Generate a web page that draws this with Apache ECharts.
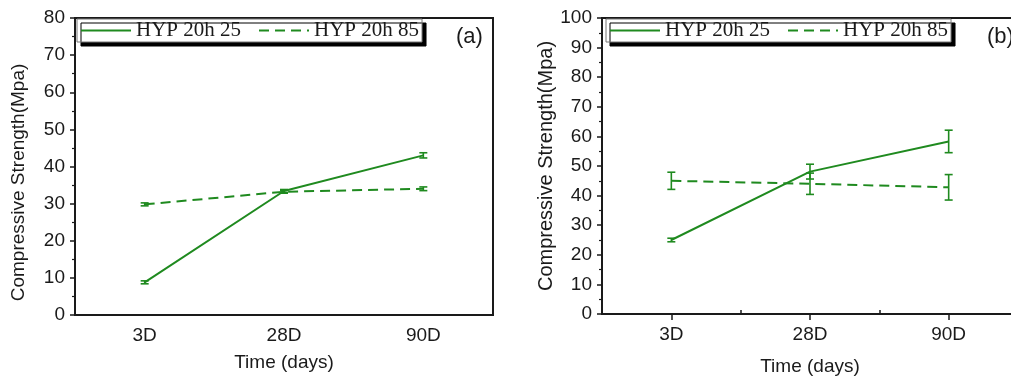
<!DOCTYPE html>
<html>
<head>
<meta charset="utf-8">
<script src="https://cdn.jsdelivr.net/npm/echarts@6/dist/echarts.min.js"></script>
<style>
  html, body { margin: 0; padding: 0; background: #fff; }
  #chart { width: 1011px; height: 376px; }
</style>
</head>
<body>
<div id="chart"></div>
<script>
// categories and values
const categories = ['3D', '28D', '90D'];
const seriesNames = ['HYP 20h 25', 'HYP 20h 85'];

// panel (a)
const a25 = [8.8, 33.4, 43.0];
const a25Err = [0.4, 0.4, 0.7];
const a85 = [29.8, 33.2, 34.0];
const a85Err = [0.4, 0.4, 0.5];

// panel (b)
const b25 = [25.0, 48.1, 58.3];
const b25Err = [0.6, 2.5, 3.8];
const b85 = [45.0, 44.0, 42.8];
const b85Err = [2.9, 3.6, 4.3];

const green = '#1f8a1f';
const ink = '#1a1a1a';
const sans = 'Liberation Sans';

const chart = echarts.init(document.getElementById('chart'));

function errData(vals, errs) {
  return vals.map((v, i) => [i, v - errs[i], v + errs[i]]);
}

function errSeries(idx, vals, errs) {
  return {
    type: 'custom',
    xAxisIndex: idx, yAxisIndex: idx,
    silent: true,
    z: 3,
    data: errData(vals, errs),
    renderItem(params, api) {
      const x = api.value(0);
      const lo = api.coord([x, api.value(1)]);
      const hi = api.coord([x, api.value(2)]);
      const w = 4;
      const style = { stroke: green, lineWidth: 1.6 };
      return {
        type: 'group',
        children: [
          { type: 'line', shape: { x1: lo[0], y1: lo[1], x2: hi[0], y2: hi[1] }, style },
          { type: 'line', shape: { x1: lo[0] - w, y1: lo[1], x2: lo[0] + w, y2: lo[1] }, style },
          { type: 'line', shape: { x1: hi[0] - w, y1: hi[1], x2: hi[0] + w, y2: hi[1] }, style }
        ]
      };
    }
  };
}

function lineSeries(idx, name, vals, dashed) {
  return {
    type: 'line',
    name: name,
    xAxisIndex: idx, yAxisIndex: idx,
    data: vals,
    symbol: 'none',
    z: 4,
    lineStyle: { color: green, width: 2, type: dashed ? [10, 6] : 'solid' },
    itemStyle: { color: green }
  };
}

function yAxis(idx, max) {
  return {
    type: 'value',
    gridIndex: idx,
    min: 0, max: max, interval: 10,
    name: 'Compressive Strength(Mpa)',
    nameLocation: 'middle',
    nameGap: idx === 0 ? 47 : 40,
    nameTextStyle: {
      fontFamily: sans, fontSize: idx === 0 ? 19 : 20, color: ink,
      // panel (a)'s title sits a little below the middle of its axis
      padding: idx === 0 ? [0, 32, 0, 0] : 0
    },
    axisLine: { show: true, lineStyle: { color: ink, width: 2 } },
    axisTick: { show: true, length: 5, lineStyle: { color: ink, width: 1.5 } },
    minorTick: { show: true, splitNumber: 2, length: 3, lineStyle: { color: ink, width: 1.2 } },
    splitLine: { show: false },
    axisLabel: { fontFamily: sans, fontSize: 19, color: ink, margin: 10 }
  };
}

function xAxis(idx, ticks) {
  return {
    type: 'category',
    gridIndex: idx,
    data: categories,
    boundaryGap: true,
    name: 'Time (days)',
    nameLocation: 'middle',
    nameGap: idx === 0 ? 38 : 43,
    nameTextStyle: { fontFamily: sans, fontSize: 19, color: ink },
    axisLine: { show: true, lineStyle: { color: ink, width: 2 } },
    axisTick: { show: ticks, alignWithLabel: true, length: 6, lineStyle: { color: ink, width: 1.5 } },
    splitLine: { show: false },
    axisLabel: { fontFamily: sans, fontSize: 19, color: ink, margin: 11 }
  };
}

function legend(left) {
  return {
    left: left, top: 19,
    orient: 'horizontal',
    data: seriesNames,
    itemWidth: 50, itemHeight: 14,
    itemGap: 17,
    padding: [1, 3, 1, 3],
    backgroundColor: '#fff',
    borderColor: '#777', borderWidth: 1,
    shadowColor: '#000', shadowBlur: 0, shadowOffsetX: 4, shadowOffsetY: 4,
    itemStyle: { opacity: 0 },
    textStyle: { fontFamily: 'Liberation Serif', fontSize: 21, color: ink, padding: [2, 0, 0, 0] },
    selectedMode: false
  };
}

const gridBase = { show: true, borderColor: ink, borderWidth: 2, backgroundColor: 'transparent', outerBoundsMode: 'none', containLabel: false };

const option = {
  animation: false,
  backgroundColor: '#fff',
  grid: [
    Object.assign({ left: 75, top: 18, width: 418, height: 297 }, gridBase),
    Object.assign({ left: 602, top: 18, width: 416, height: 296 }, gridBase)
  ],
  legend: [legend(77), legend(606)],
  xAxis: [
    xAxis(0, false),
    xAxis(1, true),
    // between-category ticks on panel (b)
    {
      type: 'category', gridIndex: 1, data: categories, boundaryGap: true, position: 'bottom',
      axisLine: { show: false },
      axisTick: { show: true, inside: true, length: 4, lineStyle: { color: ink, width: 1.5 } },
      axisLabel: { show: false }, splitLine: { show: false }
    }
  ],
  yAxis: [yAxis(0, 80), yAxis(1, 100)],
  series: [
    lineSeries(0, seriesNames[0], a25, false),
    lineSeries(0, seriesNames[1], a85, true),
    errSeries(0, a25, a25Err),
    errSeries(0, a85, a85Err),
    lineSeries(1, seriesNames[0], b25, false),
    lineSeries(1, seriesNames[1], b85, true),
    errSeries(1, b25, b25Err),
    errSeries(1, b85, b85Err)
  ],
  graphic: [
    { type: 'text', left: 456, top: 26, style: { text: '(a)', fontFamily: sans, fontSize: 22, fill: ink } },
    { type: 'text', left: 987, top: 26, style: { text: '(b)', fontFamily: sans, fontSize: 22, fill: ink } }
  ]
};

chart.setOption(option);
</script>
</body>
</html>
